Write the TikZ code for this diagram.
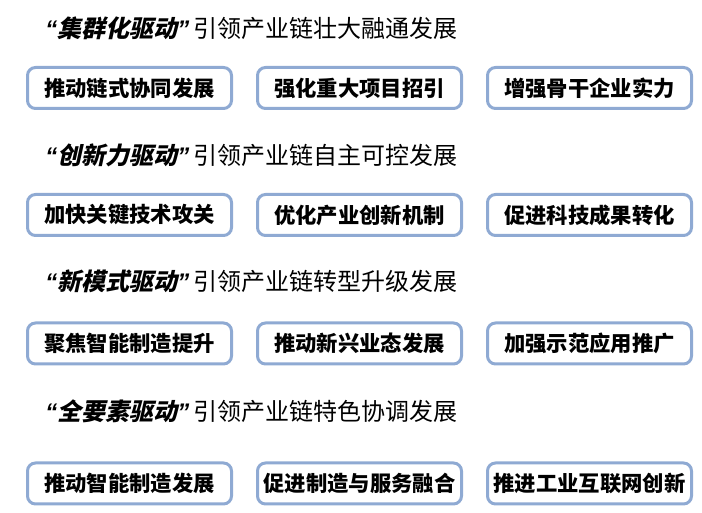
\documentclass[tikz,border=0pt]{standalone}
\usepackage{fontspec}
\setmainfont{Noto Sans CJK SC}
\newfontfamily\drivefont{Noto Sans CJK SC}[BoldFeatures={FakeSlant=0.22}]
\newfontfamily\quotefont{Liberation Sans}
\usepackage{xcolor}
\usetikzlibrary{positioning}

\definecolor{boxblue}{RGB}{143,170,211}

% bold slanted driver phrase with narrow quotes
\newcommand{\drive}[1]{{\quotefont\bfseries\itshape “}{\drivefont\bfseries #1}{\quotefont\bfseries\itshape ”}}

\begin{document}
\begin{tikzpicture}[
    x=0.75pt, y=0.75pt,
    node distance=17.25pt,
    box/.style={rectangle, draw=boxblue, line width=2.25pt, rounded corners=6pt, fill=white, minimum width=153pt, minimum height=30.75pt, font=\fontsize{16pt}{18pt}\selectfont\bfseries, align=center},
    heading/.style={anchor=west, inner sep=0pt, font=\fontsize{18pt}{20pt}\selectfont},
]
\useasboundingbox (0,0) rectangle (702,513);

% Row 1: cluster
\node[heading] (title1) at (45,485) {\drive{集群化驱动}\,引领产业链壮大融通发展};
\node[box] (r1a) at (129.5,425) {推动链式协同发展};
\node[box, right=of r1a] (r1b) {强化重大项目招引};
\node[box, right=of r1b] (r1c) {增强骨干企业实力};

% Row 2: innovation
\node[heading] (title2) at (45,358) {\drive{创新力驱动}\,引领产业链自主可控发展};
\node[box] (r2a) at (129.5,298) {加快关键技术攻关};
\node[box, right=of r2a] (r2b) {优化产业创新机制};
\node[box, right=of r2b] (r2c) {促进科技成果转化};

% Row 3: new models
\node[heading] (title3) at (45,232) {\drive{新模式驱动}\,引领产业链转型升级发展};
\node[box] (r3a) at (129.5,169.5) {聚焦智能制造提升};
\node[box, right=of r3a] (r3b) {推动新兴业态发展};
\node[box, right=of r3b] (r3c) {加强示范应用推广};

% Row 4: all factors
\node[heading] (title4) at (45,102) {\drive{全要素驱动}\,引领产业链特色协调发展};
\node[box] (r4a) at (129.5,29.5) {推动智能制造发展};
\node[box, right=of r4a] (r4b) {促进制造与服务融合};
\node[box, right=of r4b] (r4c) {推进工业互联网创新};

\end{tikzpicture}
\end{document}
